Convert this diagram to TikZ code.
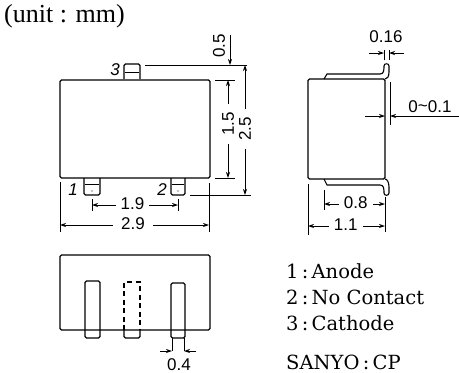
\documentclass[tikz,border=0pt]{standalone}
\usepackage{fontspec}
\setmainfont{Liberation Serif}
\newfontfamily\dimfont{Liberation Sans}
\newfontfamily\keyfont{DejaVu Serif}
\usetikzlibrary{arrows.meta}
\tikzset{
  part/.style={draw=black,line width=1.1pt,rounded corners=1.5pt},
  hidden/.style={draw=black,line width=1.1pt,dash pattern=on 5pt off 3.5pt},
  extline/.style={draw=black,line width=0.8pt},
  dimlabel/.style={font=\dimfont\fontsize{17}{17}\selectfont,text=black,inner ysep=1pt,inner xsep=5pt},
  pinlabel/.style={font=\dimfont\itshape\fontsize{17}{17}\selectfont,text=black,inner sep=0pt},
  keylabel/.style={font=\keyfont\fontsize{19.5}{19.5}\selectfont,text=black,anchor=west,inner sep=0pt}
}
\begin{document}
\begin{tikzpicture}[x=1pt,y=-1pt,>={Stealth[length=6pt,width=4pt]}]
      \useasboundingbox (0,0) rectangle (459,373);

      \node [anchor=west,inner sep=0pt,font=\fontsize{26}{26}\selectfont] (unit) at (4,16) {(unit : mm)};

      % front view
      \draw [part] (60,80) rectangle (210,178);
      \draw [part] (124,79) -- (124,64) -- (140,64) -- (140,79);
      \draw [extline] (125,72) -- (139,72);
      \draw [part] (84,178) -- (84,195) -- (100,195) -- (100,178);
      \draw [extline] (85,184) -- (99,184);
      \fill (92,191) circle (0.7);
      \draw [part] (171,178) -- (171,195) -- (185,195) -- (185,178);
      \draw [extline] (172,184) -- (184,184);
      \fill (178,191) circle (0.7);

      % side view
      \draw [part] (308,79) rectangle (385,179);
      \draw [line width=1.1pt] (324,79) -- (327,74) -- (380,74) .. controls (384,74) and (384,70) .. (384,66) .. controls (384,63) and (389,63) .. (389,66) -- (389,72) .. controls (389,77) and (387,79) .. (385,79);
      \draw [line width=1.1pt] (324,179) -- (327,185) -- (380,185) .. controls (384,185) and (384,189) .. (384,193) .. controls (384,196) and (389,196) .. (389,193) -- (389,187) .. controls (389,182) and (387,179) .. (385,179);

      % bottom view
      \draw [part] (60,255) rectangle (210,330);
      \draw [part] (85,338) rectangle (100,281);
      \draw [hidden] (124,330) -- (124,282) -- (140,282) -- (140,330);
      \draw [part] (124,330) -- (124,338) -- (140,338) -- (140,330);
      \draw [part] (171,338) rectangle (185,283);
      \draw [extline] (172,338) -- (172,351);
      \draw [extline] (184,338) -- (184,351);

      % extension lines
      \begin{scope}[every path/.style={extline}]
        \draw (145,65) -- (247,65);
        \draw (215,80) -- (235,80);
        \draw (215,178) -- (235,178);
        \draw (190,195) -- (251,195);
        \draw (60,182) -- (60,232);
        \draw (209,183) -- (209,232);
        \draw (92,199) -- (92,211);
        \draw (178,199) -- (178,211);
        \draw (390,82) -- (390,125);
        \draw (384,50) -- (384,60);
        \draw (389,50) -- (389,60);
        \draw (324,190) -- (324,210);
        \draw (385,197) -- (385,232);
        \draw (308,184) -- (308,235);
      \end{scope}

      \coordinate (a1) at (230,35);
      \coordinate (a2) at (230,65);
      \coordinate (b1) at (228,80);
      \coordinate (b2) at (228,178);
      \coordinate (c1) at (245,65);
      \coordinate (c2) at (245,195);
      \coordinate (d1) at (92,205);
      \coordinate (d2) at (178,205);
      \coordinate (e1) at (60,225);
      \coordinate (e2) at (209,225);
      \coordinate (f1) at (324,204);
      \coordinate (f2) at (385,204);
      \coordinate (g1) at (308,226);
      \coordinate (g2) at (385,226);
      \coordinate (h1) at (369,53);
      \coordinate (h2) at (384,53);
      \coordinate (h3) at (404,53);
      \coordinate (h4) at (389,53);
      \coordinate (i1) at (365,116);
      \coordinate (i2) at (385,116);
      \coordinate (i3) at (459,116);
      \coordinate (i4) at (390,116);
      \coordinate (j1) at (160,351);
      \coordinate (j2) at (172,351);
      \coordinate (j3) at (196,351);
      \coordinate (j4) at (184,351);

      \begin{scope}[every node/.style={dimlabel,fill=white},
          every edge/.style={extline}]
        \path [<->] (b1) edge node[rotate=90,pos=0.45,inner xsep=8pt] (dimB) {1.5} (b2);
        \path [<->] (c1) edge node[rotate=90,pos=0.49,inner xsep=8pt] (dimC) {2.5} (c2);
        \path [<->] (d1) edge node[pos=0.47,yshift=1.5pt] (dimD) {1.9} (d2);
        \path [<->] (e1) edge node[pos=0.49,yshift=1.5pt,inner xsep=8pt] (dimE) {2.9} (e2);
        \path [<->] (f1) edge node[pos=0.52,yshift=1pt] (dimF) {0.8} (f2);
        \path [<->] (g1) edge node[pos=0.49,yshift=1pt] (dimG) {1.1} (g2);
        \path [->] (a1) edge (a2);
        \path [->] (h1) edge (h2);
        \path [->] (h3) edge (h4);
        \path [->] (i1) edge (i2);
        \path [->] (i3) edge (i4);
        \path [->] (j1) edge (j2);
        \path [->] (j3) edge (j4);
      \end{scope}

      \begin{scope}[every node/.style={dimlabel}]
        \node [rotate=90] (dimA) at (219,46) {0.5};
        \node (dimH) at (386,37) {0.16};
        \node (dimI) at (430,107) {0\raisebox{1pt}{\textasciitilde}0.1};
        \node (dimJ) at (179,365) {0.4};
      \end{scope}

      \begin{scope}[every node/.style={pinlabel}]
        \node (pin1) at (73,190) {1};
        \node (pin2) at (162,190) {2};
        \node (pin3) at (115,70) {3};
      \end{scope}

      \begin{scope}[every node/.style={keylabel}]
        \node (key1) at (286,271) {1\,:\,Anode};
        \node (key2) at (286,297) {2\,:\,No Contact};
        \node (key3) at (286,323) {3\,:\,Cathode};
        \node (key4) at (286,362) {SANYO\,:\,CP};
      \end{scope}
    \end{tikzpicture}
\end{document}
